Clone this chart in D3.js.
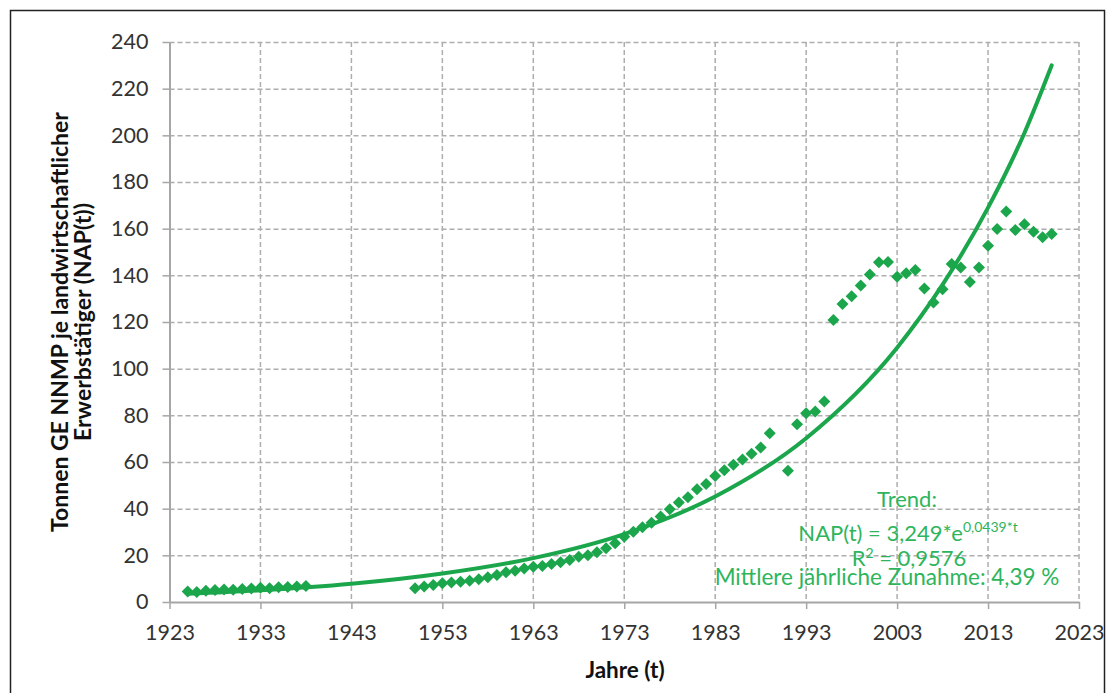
<!DOCTYPE html>
<html>
<head>
<meta charset="utf-8">
<script src="https://cdn.jsdelivr.net/npm/d3@7"></script>
<style>
  body { margin: 0; background: #fff; }
  svg { display: block; font-family: Lato, "Open Sans", sans-serif; }
</style>
</head>
<body>
<svg id="chart"></svg>
<script>
// Data
const years = [
  1925, 1926, 1927, 1928, 1929, 1930, 1931, 1932, 1933, 1934, 1935, 1936, 1937, 1938,
  1950, 1951, 1952, 1953, 1954, 1955, 1956, 1957, 1958, 1959,
  1960, 1961, 1962, 1963, 1964, 1965, 1966, 1967, 1968, 1969,
  1970, 1971, 1972, 1973, 1974, 1975, 1976, 1977, 1978, 1979,
  1980, 1981, 1982, 1983, 1984, 1985, 1986, 1987, 1988, 1989,
  1991, 1992, 1993, 1994, 1995, 1996, 1997, 1998, 1999,
  2000, 2001, 2002, 2003, 2004, 2005, 2006, 2007, 2008, 2009,
  2010, 2011, 2012, 2013, 2014, 2015, 2016, 2017, 2018, 2019, 2020
]
const nap = [
  4.5, 4.3, 4.8, 5.1, 5.4, 5.2, 5.6, 5.8, 6.1, 5.9, 6.3, 6.4, 6.6, 6.9,
  5.9, 6.6, 7.3, 8.0, 8.4, 8.7, 9.1, 9.7, 10.6, 11.6,
  12.7, 13.4, 14.4, 15.1, 15.4, 16.3, 17.0, 18.0, 19.4, 20.0,
  21.3, 23.0, 25.2, 28.0, 30.1, 32.0, 34.0, 36.6, 39.7, 42.6,
  44.9, 48.3, 50.6, 54.0, 56.5, 58.8, 61.1, 63.5, 66.2, 72.3,
  56.3, 76.2, 80.9, 81.6, 85.9, 120.9, 127.7, 131.0, 135.6,
  140.4, 145.6, 145.7, 139.4, 140.9, 142.3, 134.4, 128.4, 134.0, 144.9,
  143.4, 137.1, 143.4, 152.7, 159.9, 167.4, 159.4, 161.9, 158.7, 156.3, 157.7
]

// Exponential trend line as drawn in the reference
const trendYears = [1925, 1933, 1943, 1953, 1963, 1973, 1983, 1993, 2003, 2008, 2013, 2017, 2020]
const trendValues = [3.5, 5.0, 7.8, 12.2, 18.8, 29.1, 45.2, 70.2, 109, 136, 169, 201, 230]

const xTicks = [1923, 1933, 1943, 1953, 1963, 1973, 1983, 1993, 2003, 2013, 2023]
const yTicks = [0, 20, 40, 60, 80, 100, 120, 140, 160, 180, 200, 220, 240]

const trendLabels = ["Trend:", "R", "2", " = 0,9576", "Mittlere jährliche Zunahme: 4,39 %"]

const green = "#1ba64c"
const textGreen = "#2eb55c"
const gridColor = "#adadad"

const width = 1114
const height = 693
const plot = { left: 169.5, right: 1079, top: 42, bottom: 602 }

const svg = d3.select("#chart")
  .attr("width", width)
  .attr("height", height)

svg.selectAll("*").remove()

const x = d3.scaleLinear()
  .domain([1923, 2023])
  .range([plot.left, plot.right])

const y = d3.scaleLinear()
  .domain([0, 240])
  .range([plot.bottom, plot.top])

// Outer frame
svg.append("rect")
  .attr("x", 10.5)
  .attr("y", 10.5)
  .attr("width", 1094)
  .attr("height", 700)
  .attr("fill", "none")
  .attr("stroke", "#222")
  .attr("stroke-width", 1.5)

renderGrid()
renderAxes()
renderTrend()
renderPoints()
renderLabels()

function renderGrid() {
  const grid = svg.append("g")

  grid.selectAll("line.h")
    .data(yTicks.filter(d => d > 0))
    .join("line")
    .attr("class", "h")
    .attr("x1", plot.left)
    .attr("x2", plot.right)
    .attr("y1", d => y(d) + 0.5)
    .attr("y2", d => y(d) + 0.5)

  grid.selectAll("line.v")
    .data(xTicks.filter(d => d > 1923))
    .join("line")
    .attr("class", "v")
    .attr("x1", d => x(d))
    .attr("x2", d => x(d))
    .attr("y1", plot.top)
    .attr("y2", plot.bottom)

  grid.selectAll("line")
    .attr("stroke", gridColor)
    .attr("stroke-width", 1.5)
    .attr("stroke-dasharray", "5,3")
}

function renderAxes() {
  svg.append("g")
    .attr("transform", `translate(${plot.left}, 0)`)
    .call(d3.axisLeft(y)
      .tickValues(yTicks)
      .tickSize(7)
      .tickSizeOuter(0)
      .tickPadding(14))
    .call(g => g.select(".domain")
      .attr("stroke", "#a6a6a6")
      .attr("stroke-width", 2))
    .call(g => g.selectAll(".tick line")
      .attr("stroke", "#a6a6a6")
      .attr("stroke-width", 1.5))
    .call(g => g.selectAll(".tick text")
      .attr("font-family", "Lato")
      .attr("font-size", 21.5)
      .attr("fill", "#333"))

  svg.append("g")
    .attr("transform", `translate(0, ${plot.bottom})`)
    .call(d3.axisBottom(x)
      .tickValues(xTicks)
      .tickFormat(d3.format("d"))
      .tickSize(7)
      .tickSizeOuter(0)
      .tickPadding(16))
    .call(g => g.select(".domain")
      .attr("stroke", "#a6a6a6")
      .attr("stroke-width", 2))
    .call(g => g.selectAll(".tick line")
      .attr("stroke", "#a6a6a6")
      .attr("stroke-width", 1.5))
    .call(g => g.selectAll(".tick text")
      .attr("font-family", "Lato")
      .attr("font-size", 21.5)
      .attr("fill", "#333"))

  // Axis titles
  svg.append("text")
    .attr("x", 625)
    .attr("y", 678)
    .attr("text-anchor", "middle")
    .attr("font-size", 22.5)
    .attr("font-weight", "bold")
    .attr("fill", "#111")
    .text("Jahre (t)")

  const yTitle = svg.append("text")
    .attr("transform", `translate(0, ${(plot.top + plot.bottom) / 2}) rotate(-90)`)
    .attr("text-anchor", "middle")
    .attr("font-size", 23)
    .attr("font-weight", "bold")
    .attr("fill", "#111")

  yTitle.append("tspan")
    .attr("x", 0)
    .attr("y", 68)
    .text("Tonnen GE NNMP je landwirtschaftlicher")

  yTitle.append("tspan")
    .attr("x", 0)
    .attr("y", 91)
    .text("Erwerbstätiger (NAP(t))")
}

function renderTrend() {
  const line = d3.line()
    .x((d, i) => x(d))
    .y((d, i) => y(trendValues[i]))
    .curve(d3.curveMonotoneX)

  svg.append("path")
    .attr("d", line(trendYears))
    .attr("fill", "none")
    .attr("stroke", green)
    .attr("stroke-width", 4)
    .attr("stroke-linecap", "round")
}

function renderPoints() {
  const diamond = d3.symbol(d3.symbolSquare, 72)

  svg.append("g")
    .selectAll("path")
    .data(years)
    .join("path")
    .attr("d", diamond)
    .attr("transform", (d, i) => `translate(${x(d)}, ${y(nap[i])}) rotate(45)`)
    .attr("fill", green)
}

function renderLabels() {
  const g = svg.append("g")
    .attr("fill", textGreen)
    .attr("font-size", 22)
    .attr("text-anchor", "middle")

  g.append("text")
    .attr("x", 907)
    .attr("y", 507)
    .text(trendLabels[0])

  const eq = g.append("text")
    .attr("x", 908)
    .attr("y", 541)

  eq.append("tspan").text("NAP(t) = 3,249*e")
  eq.append("tspan")
    .attr("font-size", 14)
    .attr("dy", -9)
    .text("0,0439*t")

  // R² line touches the last line, as in the reference
  const r2 = g.append("text")
    .attr("x", 909)
    .attr("y", 566)

  r2.append("tspan").text(trendLabels[1])
  r2.append("tspan")
    .attr("font-size", 14)
    .attr("dy", -8)
    .text(trendLabels[2])
  r2.append("tspan")
    .attr("dy", 8)
    .text(trendLabels[3])

  g.append("text")
    .attr("x", 887)
    .attr("y", 585)
    .attr("font-size", 22.5)
    .text(trendLabels[4])
}
</script>
</body>
</html>
